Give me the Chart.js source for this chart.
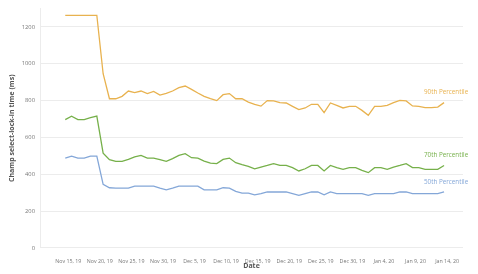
<!DOCTYPE html>
<html>
<head>
<meta charset="utf-8">
<script src="https://cdn.jsdelivr.net/npm/chart.js@4.4.1/dist/chart.umd.min.js"></script>
<style>
  body { margin: 0; background: #fff; }
</style>
</head>
<body>
<canvas id="myChart" width="478" height="274"></canvas>
<script>
// day 0 = Nov 15, 19 ... day 60 = Jan 14, 20
const tickDays = [0, 5, 10, 15, 20, 25, 30, 35, 40, 45, 50, 55, 60];
const tickLabels = ["Nov 15, 19", "Nov 20, 19", "Nov 25, 19", "Nov 30, 19", "Dec 5, 19", "Dec 10, 19",
  "Dec 15, 19", "Dec 20, 19", "Dec 25, 19", "Dec 30, 19", "Jan 4, 20", "Jan 9, 20", "Jan 14, 20"];
const yTicks = [0, 200, 400, 600, 800, 1000, 1200];
const seriesNames = ["90th Percentile", "70th Percentile", "50th Percentile"];
const colores = ["#e8b24f", "#76b04a", "#84a7d8"];

const p90 = [1263, 1263, 1263, 1263, 1263, 1263, 946, 810, 810, 823, 852, 843, 852, 838, 850, 830, 839, 852, 870, 879,
  861, 841, 823, 811, 800, 832, 838, 810, 810, 792, 780, 770, 800, 798, 789, 787, 769, 751, 760, 780,
  780, 735, 787, 774, 760, 769, 769, 747, 720, 769, 769, 774, 789, 801, 798, 771, 769, 762, 762, 765, 789];
const p70 = [697, 715, 697, 697, 707, 716, 515, 479, 470, 470, 481, 494, 503, 488, 488, 479, 470, 485, 503, 512,
  490, 488, 472, 461, 458, 481, 488, 463, 452, 443, 430, 439, 448, 458, 448, 448, 436, 418, 430, 448,
  448, 418, 448, 436, 427, 436, 436, 421, 409, 436, 436, 427, 439, 448, 458, 436, 436, 427, 427, 427, 448];
const p50 = [488, 499, 488, 488, 499, 499, 345, 327, 325, 325, 325, 336, 336, 336, 336, 325, 316, 325, 336, 336,
  336, 336, 316, 316, 316, 327, 325, 307, 298, 298, 288, 295, 304, 304, 304, 304, 295, 286, 295, 304,
  304, 289, 304, 295, 295, 295, 295, 295, 286, 295, 295, 295, 295, 304, 304, 295, 295, 295, 295, 295, 304];

const fuente = "'Open Sans', 'Noto Sans', sans-serif";

function serie(valores, i) {
  return {
    label: seriesNames[i],
    data: valores.map((v, d) => ({ x: d, y: v })),
    borderColor: colores[i],
    borderWidth: 1.3,
    pointRadius: 0,
    tension: 0
  };
}

// etiqueta al final de cada linea
const etiquetas = {
  id: "etiquetas",
  afterDatasetsDraw(chart) {
    const ctx = chart.ctx;
    ctx.save();
    ctx.font = "6.3px " + fuente;
    ctx.textAlign = "center";
    ctx.textBaseline = "middle";
    chart.data.datasets.forEach((ds, i) => {
      const meta = chart.getDatasetMeta(i);
      const ultimo = meta.data[meta.data.length - 1];
      ctx.fillStyle = colores[i];
      ctx.fillText(ds.label, ultimo.x + 2, ultimo.y - 10);
    });
    ctx.restore();
  }
};

const myChart = document.getElementById("myChart");
new Chart(myChart, {
  type: "line",
  data: { datasets: [serie(p90, 0), serie(p70, 1), serie(p50, 2)] },
  options: {
    responsive: false,
    animation: false,
    layout: { padding: { top: 8, right: 15, left: 0, bottom: 0 } },
    plugins: { legend: { display: false }, tooltip: { enabled: false } },
    scales: {
      x: {
        type: "linear",
        min: -4,
        max: 63,
        afterFit: (s) => { s.height = 26; },
        afterBuildTicks: (s) => { s.ticks = tickDays.map(v => ({ value: v })); },
        grid: { display: false },
        border: { display: false },
        ticks: {
          autoSkip: false,
          maxRotation: 0,
          padding: 2,
          labelOffset: 3,
          color: "#777",
          font: { size: 5.3, family: fuente },
          callback: (v) => tickLabels[tickDays.indexOf(v)]
        },
        title: {
          display: true,
          text: "Date",
          color: "#555",
          font: { size: 7, weight: "bold", family: fuente },
          padding: { top: 0, bottom: 4 }
        }
      },
      y: {
        min: 0,
        max: 1300,
        afterFit: (s) => { s.width = 40; },
        afterBuildTicks: (s) => { s.ticks = yTicks.map(v => ({ value: v })); },
        grid: { color: "#ececec", lineWidth: 1, drawTicks: false },
        border: { display: true, color: "#ececec" },
        ticks: {
          padding: 5,
          color: "#777",
          font: { size: 5.8, family: fuente },
          callback: (v) => String(v)
        },
        title: {
          display: true,
          text: "Champ select-lock-in time (ms)",
          color: "#555",
          font: { size: 7, weight: "bold", family: fuente },
          padding: { top: 8, bottom: 0 }
        }
      }
    }
  },
  plugins: [etiquetas]
});
</script>
</body>
</html>
